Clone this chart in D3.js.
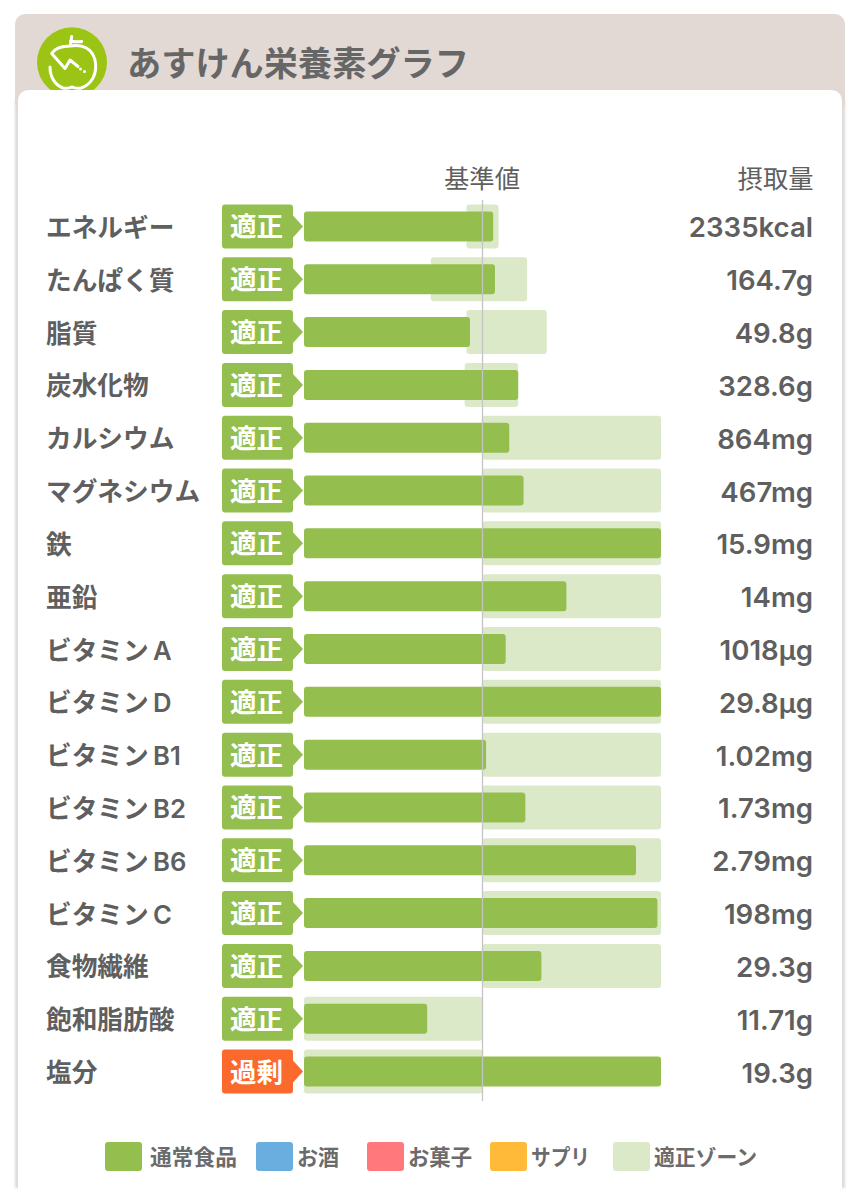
<!DOCTYPE html>
<html lang="ja">
  <head>
    <meta charset="UTF-8" />
    <title>あすけん栄養素グラフ</title>
    <script src="https://d3js.org/d3.v7.min.js"></script>
    <style>
      html, body { margin: 0; padding: 0; background: #fff; }
      svg { display: block; }
      text { font-family: "Noto Sans CJK JP", sans-serif; }
      .latin { font-family: Inter, "Noto Sans CJK JP", sans-serif; }
    </style>
  </head>
  <body>
    <svg width="860" height="1200"></svg>
    <script>
      // データ (基準値 = 100 とした割合)
      var nutrients = ['エネルギー', 'たんぱく質', '脂質', '炭水化物', 'カルシウム', 'マグネシウム', '鉄', '亜鉛', 'ビタミン\u2009A', 'ビタミン\u2009D', 'ビタミン\u2009B1', 'ビタミン\u2009B2', 'ビタミン\u2009B6', 'ビタミン\u2009C', '食物繊維', '飽和脂肪酸', '塩分']
      var intake = [106, 107, 93, 120, 115, 123, 200, 147, 113, 200, 102, 124, 186, 198, 133, 69, 200]
      var zoneLow = [91, 71, 91, 90, 100, 100, 100, 100, 100, 100, 100, 100, 100, 100, 100, 0, 0]
      var zoneHigh = [109, 125, 136, 120, 200, 200, 200, 200, 200, 200, 200, 200, 200, 200, 200, 100, 100]
      var judgements = ['適正', '適正', '適正', '適正', '適正', '適正', '適正', '適正', '適正', '適正', '適正', '適正', '適正', '適正', '適正', '適正', '過剰']
      var amounts = ['2335kcal', '164.7g', '49.8g', '328.6g', '864mg', '467mg', '15.9mg', '14mg', '1018µg', '29.8µg', '1.02mg', '1.73mg', '2.79mg', '198mg', '29.3g', '11.71g', '19.3g']
      var legendLabels = ['通常食品', 'お酒', 'お菓子', 'サプリ', '適正ゾーン']
      var legendColors = ['#94bf4e', '#6aaee0', '#ff787c', '#ffba3a', '#dce9c8']

      var svg = d3.select('svg')
      var textColor = '#5f5f5f'

      // カードと見出し
      var defs = svg.append('defs')
      var blur = defs.append('filter').attr('id', 'edge').attr('x', '-5%').attr('width', '110%')
      blur.append('feGaussianBlur').attr('stdDeviation', 1.3)
      defs.append('clipPath').attr('id', 'head')
        .append('rect').attr('x', 0).attr('y', 0).attr('width', 860).attr('height', 91)

      svg.append('rect').attr('x', 15).attr('y', 100).attr('width', 830).attr('height', 1088)
        .attr('fill', '#dcdcdc').attr('filter', 'url(#edge)')
      svg.append('rect').attr('x', 15).attr('y', 14).attr('width', 830).attr('height', 98).attr('rx', 10).attr('fill', '#e3d9d4')

      var icon = svg.append('g').attr('clip-path', 'url(#head)')
      icon.append('circle').attr('cx', 72).attr('cy', 62.3).attr('r', 35).attr('fill', '#9cc414')
      icon.append('path')
        .attr('d', 'M71.7 36.5 L70.3 46 C82 44 92 48 95 60 C98 74 91 85 81 88 C77 89 75 88 72 87 C69 88 67 89 63 88 C55 85 50 77 50 67 M70.5 41 C74 42 78 42 81.7 41.5 M70.3 46 C63 46 55 48 51.7 53.5 L65 68.5 L70 60 L78 66.5')
        .attr('fill', 'none').attr('stroke', '#fff').attr('stroke-width', 3).attr('stroke-linecap', 'round').attr('stroke-linejoin', 'round')
      icon.append('path')
        .attr('d', 'M80.5 69 L80.5 69 M84.5 71.5 L84.5 71.5')
        .attr('fill', 'none').attr('stroke', '#fff').attr('stroke-width', 3).attr('stroke-linecap', 'round')

      svg.append('text').attr('x', 127).attr('y', 76).attr('font-size', 34.2).attr('font-weight', 700)
        .attr('fill', '#666').text('あすけん栄養素グラフ')

      svg.append('path').attr('d', 'M18 1200 V102 Q18 90 30 90 H830 Q842 90 842 102 V1200 Z').attr('fill', '#fff')

      // 比例尺
      var x = d3.scaleLinear().domain([0, 200]).range([304, 661])
      var y = d3.scaleBand().domain(nutrients).range([200, 1098]).paddingInner(0)
      var mid = function(d) { return y(d) + y.bandwidth() / 2 }

      svg.append('text').attr('x', 482).attr('y', 188).attr('text-anchor', 'middle').attr('font-size', 25.3)
        .attr('fill', textColor).text('基準値')
      svg.append('text').attr('x', 813.5).attr('y', 188).attr('text-anchor', 'end').attr('font-size', 25.3)
        .attr('fill', textColor).text('摂取量')

      var rows = svg.selectAll('.row').data(nutrients).enter().append('g').attr('class', 'row')

      // 適正ゾーン
      rows.append('rect')
        .attr('x', function(d, i) { return x(zoneLow[i]) })
        .attr('y', function(d) { return mid(d) - 22 })
        .attr('width', function(d, i) { return x(zoneHigh[i]) - x(zoneLow[i]) })
        .attr('height', 44).attr('rx', 3).attr('fill', '#dce9c8')

      // 摂取量バー
      rows.append('rect')
        .attr('x', x(0))
        .attr('y', function(d) { return mid(d) - 15 })
        .attr('width', function(d, i) { return x(intake[i]) - x(0) })
        .attr('height', 30).attr('rx', 3).attr('fill', '#94bf4e')

      // 基準線
      svg.append('line').attr('x1', x(100)).attr('x2', x(100)).attr('y1', 200).attr('y2', 1101)
        .attr('stroke', '#c4c4c4').attr('stroke-width', 1.3)

      rows.append('text').attr('class', 'latin').attr('x', 46).attr('y', function(d) { return mid(d) + 10.5 })
        .attr('font-size', 25.7).attr('font-weight', 600).attr('fill', textColor)
        .text(function(d) { return d })

      // 判定バッジ
      rows.append('path')
        .attr('transform', function(d) { return 'translate(222,' + (mid(d) - 22) + ')' })
        .attr('d', 'M3 0 H68 Q71 0 71 3 V11 L81 22 L71 33 V41 Q71 44 68 44 H3 Q0 44 0 41 V3 Q0 0 3 0 Z')
        .attr('fill', function(d, i) { return judgements[i] === '過剰' ? '#fb6a2c' : '#94bf4e' })
      rows.append('text').attr('x', 256.5).attr('y', function(d) { return mid(d) + 10 })
        .attr('text-anchor', 'middle').attr('font-size', 26.5).attr('font-weight', 700).attr('fill', '#fff')
        .text(function(d, i) { return judgements[i] })

      rows.append('text').attr('class', 'latin').attr('x', 813).attr('y', function(d) { return mid(d) + 11 })
        .attr('text-anchor', 'end').attr('font-size', 27.6).attr('font-weight', 600).attr('fill', textColor)
        .text(function(d, i) { return amounts[i] })

      // 凡例
      var legendLeft = [105, 256, 367, 490, 613]
      var legendTextLeft = [150, 297, 408, 531, 654]
      var legendTextWidth = [87, 42, 64, 59, 103]
      var legend = svg.selectAll('.legend').data(legendLabels).enter().append('g').attr('class', 'legend')
      legend.append('rect').attr('x', function(d, i) { return legendLeft[i] }).attr('y', 1142)
        .attr('width', 37).attr('height', 29).attr('rx', 3)
        .attr('fill', function(d, i) { return legendColors[i] })
      legend.append('text').attr('x', function(d, i) { return legendTextLeft[i] }).attr('y', 1165)
        .attr('font-size', 21.5).attr('font-weight', 700)
        .attr('textLength', function(d, i) { return legendTextWidth[i] }).attr('lengthAdjust', 'spacingAndGlyphs')
        .attr('fill', '#6b6b6b').text(function(d) { return d })
    </script>
  </body>
</html>
